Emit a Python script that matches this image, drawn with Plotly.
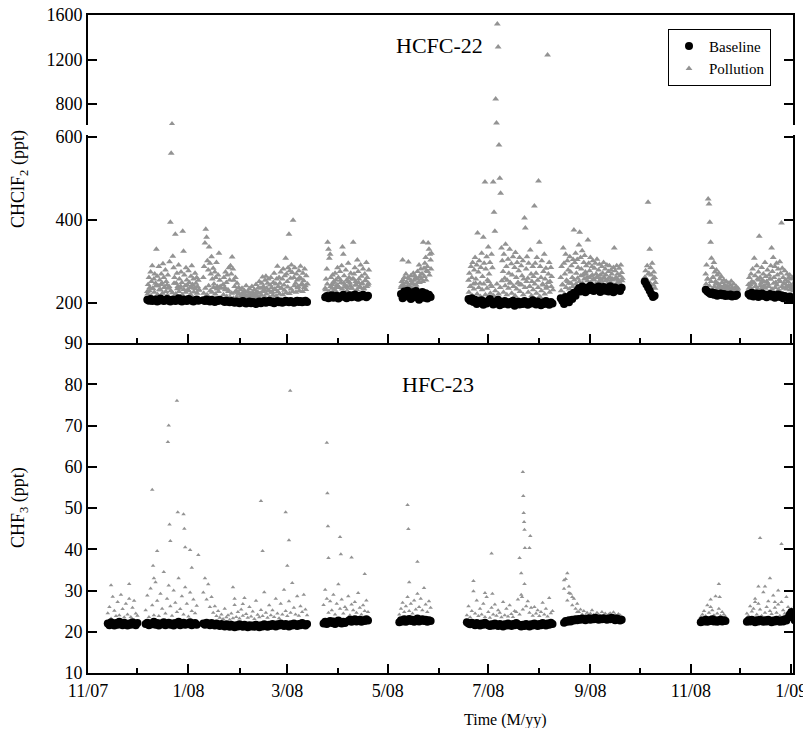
import pandas as pd
import plotly.graph_objects as go

# ---------------- HCFC-22 (CHClF2, ppt) ----------------
# baseline: daily values per measurement segment
h22_base_starts = ["2007-12-07", "2008-01-10", "2008-01-22", "2008-03-24", "2008-05-09",
                   "2008-06-19", "2008-08-14", "2008-10-04", "2008-11-10", "2008-12-06"]
h22_base_a1 = [208,206,210,205,207,209,204,206,211,208,205,207,210,206,204,208,209,205,207,212,206,204,209,207,205,210,208,206,204,207,209,206]
h22_base_a2 = [207,205,209,206,204,208,206,203,207,205,208]
h22_base_a3 = [205,203,206,204,202,205,203,201,204,202,200,203,205,201,199,202,204,200,203,201,198,202,204,200,203,205,201,203,206,202,204,200,203,205,202,204,201,203,206,204,202,205,203,201,204,206,203,205,202,204,206,203]
h22_base_b = [214,217,212,216,219,213,215,218,211,214,217,220,215,212,216,219,214,217,221,215,213,218,216,220,217,214,218]
h22_base_c = [222,212,228,216,230,220,210,226,214,229,219,208,218,227,213,224,211,220,215]
h22_base_d = [210,206,212,203,208,198,205,201,207,196,203,199,206,210,202,197,204,200,208,195,202,198,205,201,197,203,199,206,194,200,204,197,202,198,205,200,196,203,199,207,201,197,204,199,195,202,198,205,200,196,203,199]
h22_base_e = [212,205,198,215,208,202,220,210,225,218,230,236,228,240,233,226,238,231,242,235,229,237,232,240,227,234,239,230,236,228,241,233,226,238,231,235,229,237]
h22_base_f = [252,245,238,230,222,215,218]
h22_base_g = [232,228,225,222,226,220,224,218,221,223,219,222,217,220,218,221,216,219,217,220]
h22_base_h = [222,218,225,216,220,223,215,219,224,217,221,214,219,222,216,220,213,218,221,215,219,212,217,214,211,216,209,213,210]

# pollution: values every half day per segment
h22_pol_starts = ["2007-12-07", "2008-01-10", "2008-01-22", "2008-03-24", "2008-05-09",
                  "2008-06-19", "2008-08-14", "2008-10-04", "2008-11-10", "2008-12-06"]
h22_pol_a1 = [228,245,262,238,275,252,290,235,258,270,248,330,265,242,288,256,232,270,248,295,262,238,280,252,244,268,236,300,
              395,561,620,313,285,262,366,248,272,240,292,258,236,275,250,373,325,268,242,285,256,232,278,250,238,265,290,245,258,236,272,248,262,240,255,232]
h22_pol_a2 = [262,288,345,378,359,302,280,335,296,270,312,258,284,246,275,262,298,240,268,320,255,236]
h22_pol_a3 = [245,262,238,275,250,268,232,285,256,290,270,311,282,255,240,262,230,248,226,238,222,
              232,218,236,225,214,230,220,242,216,228,212,235,222,218,240,226,214,232,220,245,228,216,238,252,224,236,248,
              263,240,232,255,265,236,248,258,230,244,262,238,226,250,272,234,246,258,289,240,262,248,275,236,258,282,244,266,
              308,270,252,285,366,278,260,292,274,400,262,285,248,270,256,240,278,262,289,258,246,272,254,282,242,266]
h22_pol_b = [236,258,282,347,330,308,318,262,245,268,248,232,272,256,240,285,262,238,276,250,290,335,318,
             266,244,280,255,238,296,262,248,272,236,258,347,270,285,252,244,304,276,258,240,292,265,248,282,236,270,255,298,262,244,280]
h22_pol_c = [238,252,304,245,262,236,270,250,242,299,258,240,266,248,234,272,255,244,262,238,276,250,292,264,282,258,270,
             347,284,296,310,278,288,345,330,318,304,320]
h22_pol_d = [255,272,240,288,262,298,246,280,310,258,292,369,275,302,248,286,320,264,359,296,492,282,312,256,335,270,298,244,318,285,
             492,419,373,845,629,1519,1312,581,501,465,333,
             302,276,318,260,342,288,255,306,272,330,248,295,268,312,240,286,322,262,298,250,278,310,245,290,266,302,258,
             405,381,282,312,260,296,240,328,270,252,288,264,434,296,272,310,255,494,347,288,262,302,246,276,318,258,284,240,
             1240,270,298,252,286,264]
h22_pol_e = [262,288,245,333,296,270,318,255,302,280,248,312,275,290,262,305,376,298,320,272,305,286,340,371,
             310,282,326,268,298,315,275,290,262,352,296,278,310,265,288,302,258,284,296,270,306,262,280,294,268,255,288,272,298,260,
             282,268,292,256,276,290,262,280,270,258,286,333,278,262,290,270,256,284,266,292,274,260]
h22_pol_f = [262,278,255,290,443,272,330,285,268,296,258,275,262,250]
h22_pol_g = [270,292,258,451,439,395,347,308,286,262,298,275,252,280,268,246,272,258,240,264,250,236,256,244,238,252,240,232,248,236,244,
             253,238,230,246,234,228,240,232,236]
h22_pol_h = [245,262,238,270,252,282,248,308,266,240,290,258,275,361,262,248,286,255,270,242,298,264,252,280,246,268,258,290,
             333,276,310,262,288,250,296,268,282,256,300,272,393,284,262,248,278,256,240,270,252,262,268,244,258,236,262,248,240,254]
# weak pollution events just above baseline: daily values per segment
h22_pl_a1 = [222,230,218,236,226,242,220,232,245,224,238,228,219,240,230,225,248,222,235,228,241,220,233,226,244,230,221,238,227,235,224,231]
h22_pl_a2 = [224,236,220,242,230,226,238,222,234,228,240]
h22_pl_a3 = [220,232,216,228,214,224,212,226,215,222,210,220,214,226,211,218,224,213,221,209,217,225,212,219,228,215,222,230,214,226,219,233,217,228,222,236,220,231,225,239,223,234,228,242,226,237,230,244,228,238,233,246]
h22_pl_b = [232,246,228,240,236,252,230,244,238,256,234,248,240,230,252,242,236,258,244,232,250,238,246,234,254,240,248]
h22_pl_c = [242,256,236,250,262,240,254,246,266,244,258,250,270,252,264,256,276,268,282]
h22_pl_d = [226,240,218,234,248,222,238,216,232,246,220,236,252,224,240,218,230,246,222,238,254,226,242,220,236,250,224,240,218,234,248,228,244,220,238,252,226,240,218,232,246,224,238,216,230,244,222,236,250,226,240,232]
h22_pl_e = [230,244,222,238,252,234,248,240,256,246,260,252,266,248,258,270,254,262,250,268,256,246,264,252,258,248,262,254,246,260,250,256,244,258,248,252,246,254]
h22_pl_f = [262,256,270,248,238,244,236]
h22_pl_g = [246,258,242,252,262,240,248,236,244,238,232,240,234,230,236,232,228,234,230,232]
h22_pl_h = [236,244,232,250,240,234,256,242,238,252,236,246,240,258,234,248,238,244,232,252,240,236,246,234,242,232,240,230,236]

# ---------------- HFC-23 (CHF3, ppt) ----------------
h23_base_starts = ["2007-11-13", "2007-12-06", "2008-01-10", "2008-03-23", "2008-04-07",
                   "2008-05-08", "2008-06-18", "2008-08-16", "2008-11-07", "2008-12-05"]
h23_base_s0 = [22.0,21.6,22.3,21.8,21.5,22.1,21.7,22.4,21.9,21.6,22.2,21.8,21.5,22.0,21.7,22.3,21.9,21.6,22.1]
h23_base_s1 = [21.9,22.2,21.6,22.0,21.8,22.4,21.7,22.1,21.5,22.0,21.8,22.3,21.6,21.9,22.2,21.7,22.0,21.5,22.1,21.8,22.4,21.6,21.9,22.2,21.7,22.0,21.8,22.3,21.6,21.9,22.1,21.7]
h23_base_s2 = [22.0,21.7,22.2,21.9,21.6,22.1,21.8,21.5,22.0,21.7,21.4,21.9,21.6,21.3,21.8,21.5,21.2,21.7,21.4,21.1,21.6,21.3,21.8,21.5,21.2,21.7,21.4,21.1,21.6,21.3,21.5,21.2,21.7,21.4,21.1,21.6,21.3,21.8,21.5,21.2,21.7,21.4,21.9,21.6,21.3,21.8,21.5,22.0,21.7,21.4,21.9,21.6,21.3,21.8,21.5,22.0,21.7,21.4,21.9,21.6,22.1,21.8,21.5,21.9]
h23_base_s3 = [22.0,22.4,21.9,22.3,22.6,22.1,22.5,21.9,22.3,22.7,22.2,22.0,22.4,22.1]
h23_base_s4 = [22.6,22.9,22.4,22.8,23.0,22.5,22.7,22.9,22.4,22.8,22.6,23.0,22.7]
h23_base_s5 = [22.3,22.8,22.5,23.0,22.4,22.7,23.1,22.6,22.9,22.4,22.8,23.2,22.5,22.7,23.0,22.6,22.9,22.4,22.8,22.6]
h23_base_s6 = [22.3,22.0,21.8,22.2,21.9,21.6,22.1,21.8,21.5,22.0,21.7,22.2,21.9,21.6,21.4,21.8,21.5,22.0,21.7,21.4,21.9,21.6,21.3,21.8,21.5,22.0,21.7,21.4,21.9,21.6,22.1,21.8,21.5,21.3,21.7,21.4,21.9,21.6,21.3,21.8,21.5,22.0,21.7,21.4,21.9,21.6,22.1,21.8,21.5,22.0,21.7,22.2,21.9]
h23_base_s7 = [22.2,22.6,22.4,22.8,22.5,22.9,22.7,23.0,22.8,23.1,22.9,23.2,23.0,22.8,23.1,23.3,22.9,23.2,23.0,23.4,23.1,22.9,23.2,23.0,23.3,23.1,22.9,23.2,23.0,23.4,23.1,22.8,23.2,23.0,22.7,22.9]
h23_base_s8 = [22.3,22.7,22.5,22.9,22.4,22.8,22.6,23.0,22.5,22.8,22.4,22.7,22.9,22.5,22.8,22.6]
h23_base_s9 = [22.4,22.8,22.5,22.9,22.6,22.3,22.8,22.5,22.9,22.6,22.4,22.8,22.5,22.9,22.6,22.3,22.7,22.5,22.9,22.6,22.4,22.8,22.5,23.0,22.7,23.4,24.2,24.8,23.6,22.8,22.5]

# pollution: daily values per segment
h23_pol_starts = ["2007-11-13", "2007-12-06", "2008-01-10", "2008-03-23", "2008-05-08",
                  "2008-06-18", "2008-08-16", "2008-11-07", "2008-12-05"]
h23_pol_s0 = [24.5,26.0,23.2,28.5,25.1,23.8,27.2,24.0,29.0,25.5,23.5,26.8,24.2,28.0,23.6,25.8,27.5,24.4,23.9]
h23_pol_s1 = [25.2,28.8,23.6,30.5,26.4,24.0,32.0,27.5,23.8,29.2,25.6,34.5,24.4,28.0,31.2,26.2,23.9,30.0,27.0,24.8,33.0,25.5,28.6,24.2,30.8,26.8,23.7,29.5,25.0,27.8,24.5,26.3]
h23_pol_s2 = [29.5,33.0,27.8,31.5,26.0,28.4,24.6,26.2,23.8,25.0,23.4,24.2,23.1,25.6,23.5,24.0,22.9,24.4,23.3,26.5,23.6,24.8,23.2,25.4,23.9,28.2,24.3,23.4,26.0,23.7,24.9,23.1,27.5,24.1,23.5,25.3,23.8,29.6,24.6,23.4,26.4,24.0,25.2,23.6,28.0,24.4,23.3,26.8,24.2,30.2,25.0,23.8,27.4,24.6,31.8,25.8,24.2,28.6,23.9,26.2,24.8,29.0,25.4,24.0]
h23_pol_s3 = [26.5,30.2,28.0,24.6,27.4,25.2,29.0,24.2,26.8,31.5,25.6,27.8,24.4,26.0,25.4,28.6,24.0,26.6,25.2,27.2,24.6,29.4,25.8,24.2,26.4,25.0,27.6,24.8]
h23_pol_s5 = [24.2,25.6,27.0,24.8,26.2,28.4,25.0,26.8,24.4,27.6,25.4,29.2,26.0,28.0,25.2,30.6,26.6,24.8,27.4,25.8]
h23_pol_s6 = [24.0,26.2,23.5,25.0,29.8,24.4,27.6,23.8,25.6,24.2,26.8,23.6,28.4,24.8,23.4,25.8,24.2,26.6,23.9,25.2,24.6,23.5,27.2,24.0,25.6,23.7,26.4,24.3,23.6,25.0,24.8,27.8,24.2,29.0,25.4,31.6,26.2,27.4,24.6,25.8,23.9,26.0,24.4,25.2,23.8,24.8,27.0,24.2,25.6,23.7,28.2,24.5,25.0]
h23_pol_s7 = [30.4,32.8,27.6,31.0,29.2,26.4,28.0,25.6,26.8,24.8,25.4,24.2,25.0,24.0,24.6,23.9,24.4,25.2,24.1,23.8,24.6,24.2,23.9,24.8,24.0,24.4,23.8,24.2,24.5,23.9,24.7,24.1,23.8,24.3,24.0,23.7]
h23_pol_s8 = [23.6,24.2,25.0,23.8,26.4,24.6,27.8,25.2,24.0,28.6,24.4,25.6,23.9,24.8,24.2,23.7]
h23_pol_s9 = [24.4,23.8,26.2,24.9,25.6,28.0,24.2,26.8,25.4,23.9,29.6,24.6,26.0,27.4,25.0,24.3,28.8,25.8,24.6,26.6,23.9,27.2,25.2,24.4,28.4,26.0,24.8,25.5,24.2,26.2,25.0]

# HFC-23 pollution episodes (individual high values)
h23_spike_t = ["2007-11-15","2007-11-26","2007-12-10","2007-12-10 12:00","2007-12-11","2007-12-13",
               "2007-12-19 12:00","2007-12-20","2007-12-20 12:00","2007-12-21","2007-12-25","2007-12-25 12:00",
               "2007-12-29","2007-12-29 12:00","2007-12-30","2008-01-02","2008-01-03","2008-01-07",
               "2008-01-28","2008-01-29","2008-02-03","2008-02-14","2008-02-15","2008-02-29","2008-03-01",
               "2008-03-02","2008-03-02 18:00","2008-03-25","2008-03-25 08:00","2008-03-25 16:00","2008-03-26",
               "2008-04-02","2008-04-02 12:00","2008-04-09","2008-04-17","2008-05-13","2008-05-13 12:00",
               "2008-05-14","2008-05-19","2008-06-22","2008-06-29","2008-07-03","2008-07-03 12:00",
               "2008-07-20","2008-07-21","2008-07-21 12:00","2008-07-22","2008-07-22 06:00","2008-07-22 12:00",
               "2008-07-22 18:00","2008-07-23","2008-07-23 06:00","2008-07-26","2008-07-26 12:00",
               "2008-08-16","2008-08-18","2008-08-19","2008-08-21","2008-08-24","2008-11-13","2008-11-18",
               "2008-11-18 12:00","2008-12-10","2008-12-12","2008-12-13","2008-12-16","2008-12-19",
               "2008-12-22","2008-12-24","2008-12-26"]
h23_spike_v = [31.3,31.6,54.4,36.0,33.0,39.6,
               66.0,70.0,46.0,42.0,76.0,49.0,
               48.5,45.0,40.5,39.8,35.5,38.6,
               30.8,28.0,26.7,51.7,39.6,49.0,36.0,
               42.2,78.4,65.8,53.6,45.6,37.9,
               43.0,38.8,38.0,34.0,50.7,44.9,
               32.0,37.0,32.3,29.4,39.0,29.2,
               37.9,34.2,28.4,58.7,52.9,48.8,
               46.6,44.7,40.3,40.3,43.2,
               32.5,34.2,29.4,28.4,24.8,26.0,31.6,
               28.4,27.2,31.0,42.7,31.0,33.0,
               27.2,30.0,41.3]

x_ticks_start = "2007-11-01"
x_range = ["2007-11-01", "2009-01-02"]


def expand(starts, segments, step_days):
    xs, ys = [], []
    for s, vals in zip(starts, segments):
        t0 = pd.Timestamp(s)
        xs += [t0 + pd.Timedelta(days=i * step_days) for i in range(len(vals))]
        ys += list(vals)
    return xs, ys


h22_bx, h22_by = expand(h22_base_starts,
                        [h22_base_a1, h22_base_a2, h22_base_a3, h22_base_b, h22_base_c,
                         h22_base_d, h22_base_e, h22_base_f, h22_base_g, h22_base_h], 1)
h22_px, h22_py = expand(h22_pol_starts,
                        [h22_pol_a1, h22_pol_a2, h22_pol_a3, h22_pol_b, h22_pol_c,
                         h22_pol_d, h22_pol_e, h22_pol_f, h22_pol_g, h22_pol_h], 0.5)
lx, ly = expand(h22_base_starts,
                [h22_pl_a1, h22_pl_a2, h22_pl_a3, h22_pl_b, h22_pl_c,
                 h22_pl_d, h22_pl_e, h22_pl_f, h22_pl_g, h22_pl_h], 1)
h22_px += [t + pd.Timedelta(hours=6) for t in lx]
h22_py += ly
h23_bx, h23_by = expand(h23_base_starts,
                        [h23_base_s0, h23_base_s1, h23_base_s2, h23_base_s3, h23_base_s4,
                         h23_base_s5, h23_base_s6, h23_base_s7, h23_base_s8, h23_base_s9], 1)
h23_px, h23_py = expand(h23_pol_starts,
                        [h23_pol_s0, h23_pol_s1, h23_pol_s2, h23_pol_s3, h23_pol_s5,
                         h23_pol_s6, h23_pol_s7, h23_pol_s8, h23_pol_s9], 1)
h23_px += [pd.Timestamp(t) for t in h23_spike_t]
h23_py += h23_spike_v

FONT = "Liberation Serif, Times New Roman, serif"
GRAY = "#939393"
base_marker = dict(symbol="circle", size=8, color="black")
pol_marker = dict(symbol="triangle-up", size=6, color=GRAY)
pol_marker_small = dict(symbol="triangle-up", size=4, color=GRAY)

fig = go.Figure()
for xa, ya, show in (("x2", "y2", True), ("x3", "y3", False)):
    fig.add_trace(go.Scatter(x=h22_px, y=h22_py, mode="markers", marker=pol_marker,
                             name="Pollution", showlegend=show, legendrank=2,
                             xaxis=xa, yaxis=ya))
fig.add_trace(go.Scatter(x=h22_bx, y=h22_by, mode="markers", marker=base_marker,
                         name="Baseline", showlegend=True, legendrank=1,
                         xaxis="x2", yaxis="y2"))
fig.add_trace(go.Scatter(x=h23_px, y=h23_py, mode="markers", marker=pol_marker_small,
                         name="Pollution", showlegend=False, xaxis="x", yaxis="y"))
fig.add_trace(go.Scatter(x=h23_bx, y=h23_by, mode="markers", marker=base_marker,
                         name="Baseline", showlegend=False, xaxis="x", yaxis="y"))

tickfont = dict(family=FONT, size=18, color="black")
common_y = dict(showline=True, linewidth=2, linecolor="black", ticks="inside",
                ticklen=9, tickwidth=2, tickcolor="black", mirror="ticks",
                showgrid=False, zeroline=False, tickfont=tickfont, automargin=False,
                ticklabeloverflow="allow")

# the page body adds an 8 px offset; width may overflow the right margin,
# height is reduced so the page does not scroll
fig.update_layout(
    width=803, height=720,
    margin=dict(l=80, r=18, t=7, b=55, autoexpand=False),
    paper_bgcolor="white", plot_bgcolor="white",
    font=dict(family=FONT, size=18, color="black"),
    xaxis=dict(domain=[0, 1], anchor="y", type="date", range=x_range,
               tick0=x_ticks_start, dtick="M2", tickformat="%-m/%y",
               ticks="inside", ticklen=9, tickwidth=2, tickcolor="black",
               minor=dict(dtick="M1", ticks="inside", ticklen=5, tickwidth=1.5, tickcolor="black"),
               showline=True, linewidth=2, linecolor="black", mirror=False,
               showgrid=False, zeroline=False, tickfont=tickfont, automargin=False,
               ticklabeloverflow="allow"),
    xaxis2=dict(domain=[0, 1], anchor="y2", matches="x", type="date",
                tick0=x_ticks_start, dtick="M2", showticklabels=False,
                ticks="inside", ticklen=9, tickwidth=2, tickcolor="black",
                minor=dict(dtick="M1", ticks="inside", ticklen=5, tickwidth=1.5, tickcolor="black"),
                showline=True, linewidth=2, linecolor="black", mirror=False,
                showgrid=False, zeroline=False, automargin=False),
    xaxis3=dict(domain=[0, 1], anchor="y3", matches="x", type="date", side="top",
                showticklabels=False, ticks="", showline=True, linewidth=2,
                linecolor="black", mirror=False, showgrid=False, zeroline=False,
                automargin=False),
    yaxis=dict(domain=[0, 0.5015], anchor="x", range=[10, 90], dtick=10, **common_y),
    yaxis2=dict(domain=[0.5015, 0.8176], anchor="x2", range=[104, 605],
                tickvals=[200, 400, 600], **common_y),
    yaxis3=dict(domain=[0.8328, 1], anchor="x3", range=[611, 1600],
                tickvals=[800, 1200, 1600], **common_y),
    showlegend=True,
    legend=dict(x=0.8227, y=0.979, xanchor="left", yanchor="top",
                bordercolor="black", borderwidth=1, bgcolor="white",
                font=dict(family=FONT, size=15, color="black"),
                itemsizing="trace", tracegroupgap=0),
    annotations=[
        dict(text="HCFC-22", x=0.499, y=0.954, xref="paper", yref="paper",
             xanchor="center", yanchor="middle",
             showarrow=False, font=dict(family=FONT, size=22)),
        dict(text="HFC-23", x=0.496, y=0.4377, xref="paper", yref="paper",
             xanchor="center", yanchor="middle",
             showarrow=False, font=dict(family=FONT, size=22)),
        dict(text="CHClF<sub>2</sub> (ppt)", x=-0.0965, y=0.7508, xref="paper", yref="paper",
             xanchor="center", yanchor="middle",
             textangle=-90, showarrow=False, font=dict(family=FONT, size=18)),
        dict(text="CHF<sub>3</sub> (ppt)", x=-0.0965, y=0.2523, xref="paper", yref="paper",
             xanchor="center", yanchor="middle",
             textangle=-90, showarrow=False, font=dict(family=FONT, size=18)),
        dict(text="Time (M/yy)", x=0.592, y=-0.0714, xref="paper", yref="paper",
             xanchor="center", yanchor="middle",
             showarrow=False, font=dict(family=FONT, size=16)),
    ],
)

fig.write_html("out.html")
